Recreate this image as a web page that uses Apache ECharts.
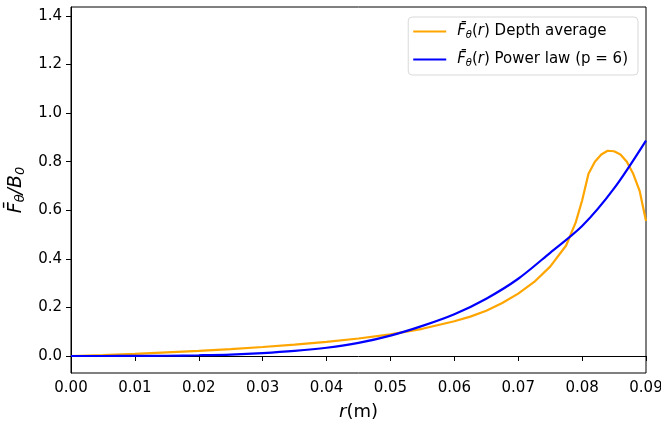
<!DOCTYPE html>
<html>
<head>
<meta charset="utf-8">
<script src="https://cdn.jsdelivr.net/npm/echarts@6/dist/echarts.min.js"></script>
<style>html,body{margin:0;padding:0;background:#fff;}#c{width:661px;height:422px;}</style>
</head>
<body>
<div id="c"></div>
<script>
// Depth average curve
const depthR = [0,0.005,0.01,0.015,0.02,0.025,0.03,0.035,0.04,0.045,0.05,0.055,0.06,0.0625,0.065,0.0675,0.07,0.0725,0.075,0.0775,0.079,0.08,0.081,0.082,0.083,0.084,0.085,0.086,0.087,0.088,0.089,0.09];
const depthF = [0,0.004,0.009,0.015,0.021,0.028,0.037,0.047,0.058,0.072,0.089,0.112,0.143,0.162,0.186,0.218,0.257,0.305,0.368,0.455,0.55,0.64,0.75,0.80,0.83,0.845,0.843,0.83,0.80,0.75,0.68,0.556];
// Power law curve
const powR = [0,0.005,0.01,0.015,0.02,0.025,0.03,0.035,0.04,0.045,0.05,0.055,0.06,0.065,0.07,0.075,0.08,0.085,0.09];
const powF = [0,0,0.0005,0.001,0.003,0.006,0.012,0.021,0.034,0.054,0.084,0.124,0.172,0.236,0.318,0.425,0.535,0.69,0.887];
const yTicks = [0,0.2,0.4,0.6,0.8,1.0,1.2,1.4];
const names = ['Depth average','Power law (p = 6)'];

const pair = (xs, ys) => xs.map((x,i)=>[x, ys[i]]);
const FF = 'DejaVu Sans';
const FS = 15;

const chart = echarts.init(document.getElementById('c'));
chart.setOption({
  animation:false,
  textStyle:{fontFamily:FF},
  grid:{left:71,right:15,top:7,bottom:49,containLabel:false,outerBoundsMode:'none',show:true,borderColor:'#000',borderWidth:1,backgroundColor:'transparent'},
  legend:{
    right:23, top:17, orient:'vertical', itemWidth:33, itemHeight:2, icon:'rect', itemGap:12,
    padding:[7,10,7,5], borderColor:'#d9d9d9', borderWidth:1, borderRadius:4, backgroundColor:'rgba(255,255,255,0.8)',
    data: names,
    formatter: n => '{f0|F\u0304}{s|\u03b8}{n|(}{f|r}{n|) ' + n + '}',
    textStyle:{
      fontFamily:FF, fontSize:FS, color:'#000',
      rich:{
        f0:{fontStyle:'italic',fontSize:FS,fontFamily:FF,color:'#000',padding:[0,0,0,6]},
        f:{fontStyle:'italic',fontSize:FS,fontFamily:FF,color:'#000'},
        s:{fontStyle:'italic',fontSize:10,fontFamily:FF,color:'#000',verticalAlign:'bottom',padding:[7,0,0,0]},
        n:{fontSize:FS,fontFamily:FF,color:'#000'}
      }
    }
  },
  xAxis:{
    type:'value', min:0, max:0.09, interval:0.01,
    name:'{i|r}{n|(m)}', nameLocation:'middle', nameGap:30,
    nameTextStyle:{rich:{i:{fontStyle:'italic',fontSize:18,fontFamily:FF,color:'#000'},n:{fontSize:18,fontFamily:FF,color:'#000'}}},
    axisLine:{lineStyle:{color:'#000',width:1}},
    axisTick:{show:true,length:5,inside:false,lineStyle:{color:'#000'}},
    axisLabel:{formatter:v=>v.toFixed(2),fontSize:FS,color:'#000',margin:8,fontFamily:FF},
    splitLine:{show:false}
  },
  yAxis:{
    type:'value', min:-0.07, max:1.437,
    name:'{f|F\u0304}{s|\u03b8}{n|/}{f|B}{s|0}', nameLocation:'middle', nameGap:40, nameRotate:90,
    nameTextStyle:{rich:{
      f:{fontStyle:'italic',fontSize:19,fontFamily:FF,color:'#000'},
      s:{fontStyle:'italic',fontSize:13,fontFamily:FF,color:'#000',verticalAlign:'bottom',padding:[9,0,0,0]},
      n:{fontStyle:'italic',fontSize:19,fontFamily:FF,color:'#000'}
    }},
    axisLine:{show:true,onZero:false,lineStyle:{color:'#000',width:1}},
    axisTick:{show:true,length:5,inside:false,customValues:yTicks,lineStyle:{color:'#000'}},
    axisLabel:{customValues:yTicks,formatter:v=>v.toFixed(1),fontSize:FS,color:'#000',margin:9,fontFamily:FF},
    splitLine:{show:false}
  },
  series:[
    {name:names[0],type:'line',data:pair(depthR,depthF),symbol:'none',lineStyle:{color:'#FFA500',width:2.2},itemStyle:{color:'#FFA500'},z:2},
    {name:names[1],type:'line',data:pair(powR,powF),symbol:'none',smooth:0.3,lineStyle:{color:'#0000FF',width:2.2},itemStyle:{color:'#0000FF'},z:3}
  ]
});
</script>
</body>
</html>
